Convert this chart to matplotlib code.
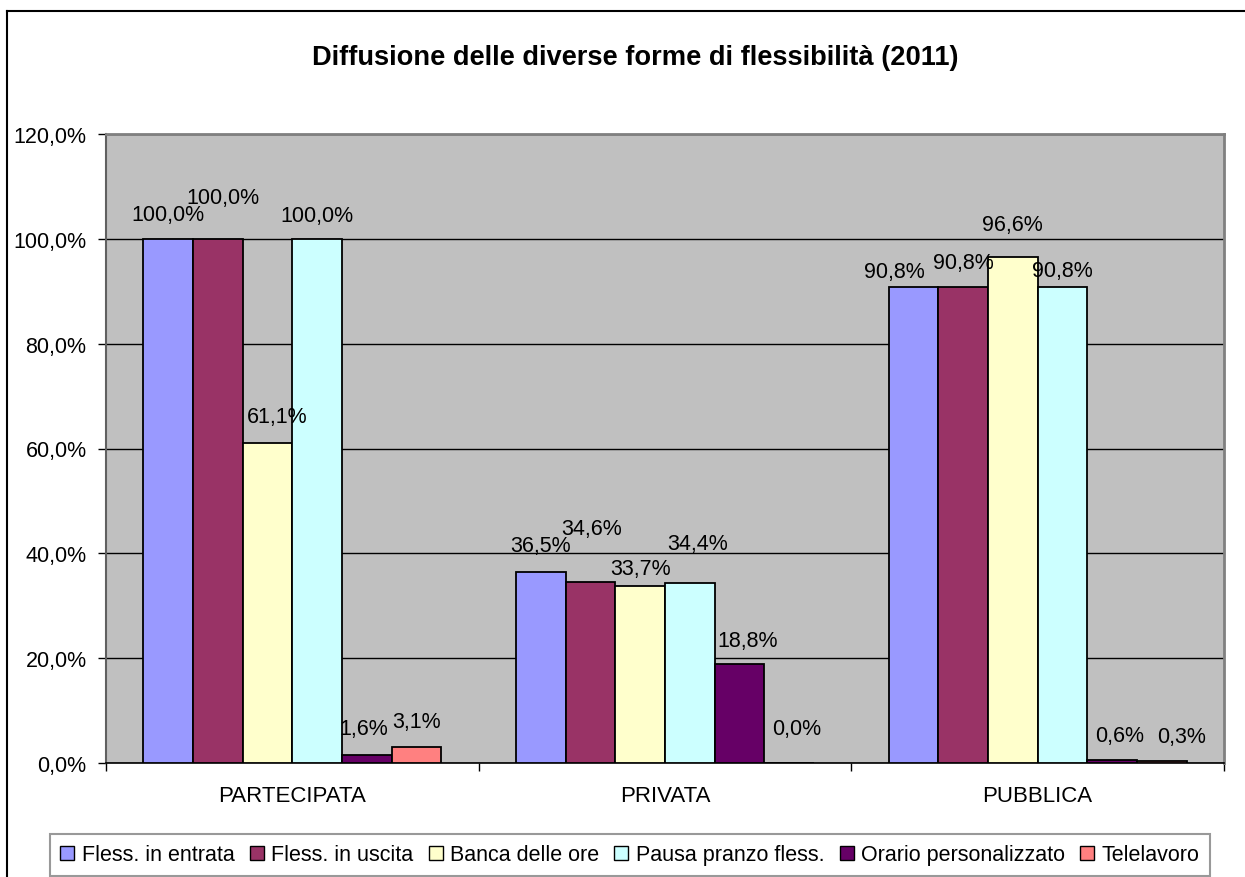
import matplotlib
matplotlib.use("Agg")
import matplotlib.pyplot as plt
import numpy as np
from matplotlib.patches import Patch
from matplotlib.lines import Line2D
from matplotlib.ticker import FuncFormatter

plt.rcParams['font.family'] = ['Liberation Sans', 'DejaVu Sans']

title = "Diffusione delle diverse forme di flessibilità (2011)"
categories = ["PARTECIPATA", "PRIVATA", "PUBBLICA"]
series_names = ["Fless. in entrata", "Fless. in uscita", "Banca delle ore",
                "Pausa pranzo fless.", "Orario personalizzato", "Telelavoro"]
fless_entrata = [100.0, 36.5, 90.8]
fless_uscita = [100.0, 34.6, 90.8]
banca_ore = [61.1, 33.7, 96.6]
pausa_pranzo = [100.0, 34.4, 90.8]
orario_pers = [1.6, 18.8, 0.6]
telelavoro = [3.1, 0.0, 0.3]
yticks = [0, 20, 40, 60, 80, 100, 120]

series = [fless_entrata, fless_uscita, banca_ore, pausa_pranzo, orario_pers, telelavoro]
colors = ["#9999FF", "#993366", "#FFFFCC", "#CCFFFF", "#660066", "#FF8080"]

# label nudges in pixels (dx, dy above bar top), per category then series
label_nudge = [
    [(0, 24), (5, 41), (10, 26), (0, 23), (-3, 26), (0, 25)],
    [(0, 26), (1, 53), (0, 18), (8, 39), (8, 24), (7, 34)],
    [(-19, 16), (0, 25), (0, 32), (0, 17), (7, 24), (20, 25)],
]

W, H, DPI = 1245, 878, 100
fig = plt.figure(figsize=(W / DPI, H / DPI), dpi=DPI)
fig.patch.set_facecolor("white")

left, right, top, bottom = 106, 1224, 135, 764
ax = fig.add_axes([left / W, 1 - bottom / H, (right - left) / W, (bottom - top) / H])
ax.set_facecolor("#C0C0C0")

n = len(series)
gap = 1.5
bw = 1.0 / (n + gap)
x = np.arange(len(categories))
for i, (vals, col) in enumerate(zip(series, colors)):
    pos = x + (i - (n - 1) / 2) * bw
    ax.bar(pos, vals, width=bw, color=col, edgecolor="black", linewidth=1.3, zorder=3)
    for c, (p, v) in enumerate(zip(pos, vals)):
        dx, dy = label_nudge[c][i]
        ax.annotate(f"{v:.1f}%".replace(".", ","), xy=(p, v), xytext=(dx, dy),
                    textcoords="offset pixels", ha="center", va="center",
                    fontsize=15.5, color="black", zorder=4)

ax.set_xlim(-0.5, len(categories) - 0.5)
ax.set_ylim(0, 120)
ax.set_yticks(yticks)
ax.yaxis.set_major_formatter(FuncFormatter(lambda v, _: f"{v:.1f}%".replace(".", ",")))
ax.grid(axis="y", color="black", linewidth=1.0, zorder=1)
ax.set_axisbelow(True)

# category separators as tick marks, category names as minor labels
ax.set_xticks(np.arange(len(categories) + 1) - 0.5)
ax.set_xticklabels([])
ax.set_xticks(x, minor=True)
ax.set_xticklabels(categories, minor=True)
ax.tick_params(axis="x", which="major", direction="out", length=6, width=1, color="black")
ax.tick_params(axis="x", which="minor", length=0, pad=16, labelsize=16)
ax.tick_params(axis="y", direction="out", length=6, width=1, color="black", labelsize=15.5, pad=8)

for s in ["top", "right"]:
    ax.spines[s].set_color("#808080")
    ax.spines[s].set_linewidth(2)
ax.spines["left"].set_color("#606060")
ax.spines["left"].set_linewidth(1.5)
ax.spines["bottom"].set_color("black")
ax.spines["bottom"].set_linewidth(1.2)

fig.text(635 / W, 1 - 58 / H, title, ha="center", va="center",
         fontsize=19.6, fontweight="bold")

handles = [Patch(facecolor=c, edgecolor="black", linewidth=1.0) for c in colors]
leg = fig.legend(handles, series_names, loc="center", ncol=n,
                 bbox_to_anchor=(630 / W, 1 - 856 / H), fontsize=15.5,
                 handlelength=0.65, handleheight=0.65, handletextpad=0.35,
                 columnspacing=0.7, borderpad=0.5, fancybox=False,
                 frameon=True, borderaxespad=0)
leg.get_frame().set_edgecolor("#808080")
leg.get_frame().set_linewidth(1.5)

# chart border (left and top edges)
fig.add_artist(Line2D([7 / W, 7 / W], [1 - 12 / H, 0], color="black", linewidth=1.5,
                      transform=fig.transFigure))
fig.add_artist(Line2D([7 / W, 1], [1 - 12 / H, 1 - 12 / H], color="black", linewidth=1.5,
                      transform=fig.transFigure))

fig.savefig("out.png", dpi=DPI)
